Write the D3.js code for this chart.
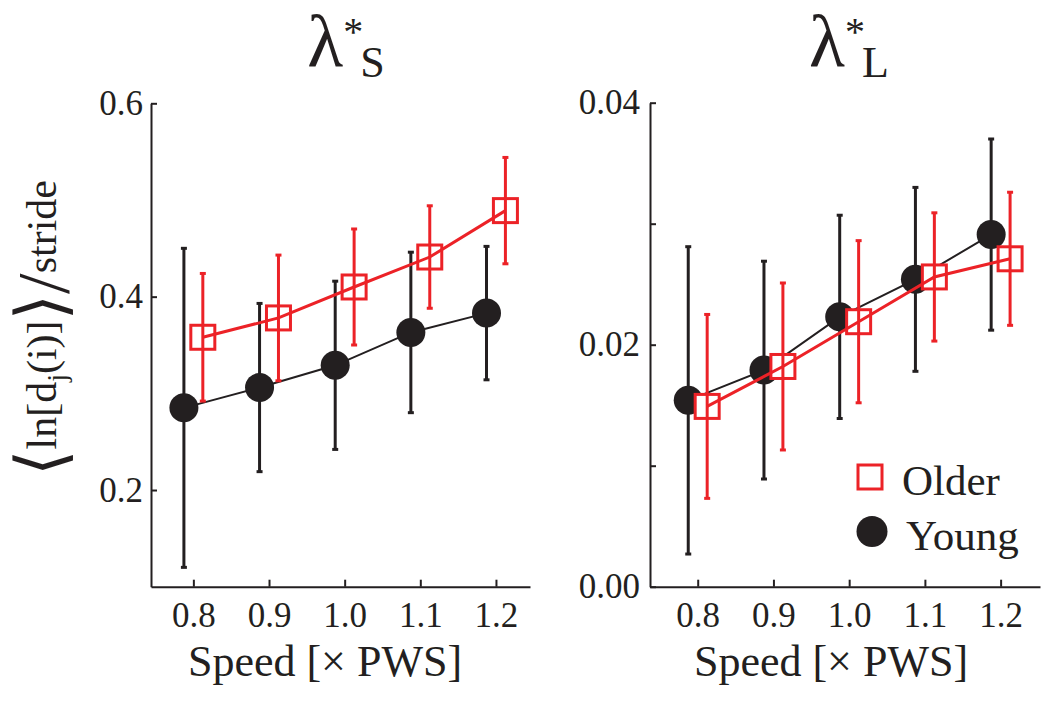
<!DOCTYPE html>
<html><head><meta charset="utf-8">
<script src="https://cdn.jsdelivr.net/npm/d3@7"></script>
<style>
body{margin:0;background:#fff}
svg text{font-family:"Liberation Serif","Times New Roman",serif;fill:#231f20}
</style>
</head><body><svg id="c" width="1050" height="704"></svg>
<script>
// ---- data ----
const speeds = [0.8, 0.9, 1.0, 1.1, 1.2];
const seriesNames = ["Older", "Young"];
const shortYoungMean = [0.285, 0.306, 0.329, 0.363, 0.383];
const shortYoungSD   = [0.165, 0.087, 0.087, 0.083, 0.069];
const shortOlderMean = [0.358, 0.378, 0.410, 0.441, 0.489];
const shortOlderSD   = [0.066, 0.065, 0.060, 0.053, 0.055];
const longYoungMean  = [0.0154, 0.0179, 0.0223, 0.0254, 0.0291];
const longYoungSD    = [0.0127, 0.0090, 0.0084, 0.0076, 0.0079];
const longOlderMean  = [0.0149, 0.0182, 0.0219, 0.0256, 0.0271];
const longOlderSD    = [0.0076, 0.0069, 0.0067, 0.0053, 0.0055];
const xTickValues = [0.8, 0.9, 1.0, 1.1, 1.2];
const xTickLabels = ["0.8", "0.9", "1.0", "1.1", "1.2"];
const shortYTicks = [0.2, 0.4, 0.6];
const shortYLabels = ["0.2", "0.4", "0.6"];
const longYTicks = [0, 0.01, 0.02, 0.03, 0.04];
const longYLabels = ["0.00", "", "0.02", "", "0.04"];
const titleSubs = ["S", "L"];
const xLabel = "Speed [\u00d7 PWS]";

const BLACK = "#231f20", RED = "#ec2227";
const svg = d3.select("#c");

const panels = [
  {x: d3.scaleLinear().domain([0.744, 1.245]).range([151, 530]),
   y: d3.scaleLinear().domain([0.1, 0.6]).range([586.7, 103.3]),
   yTicks: shortYTicks, yLabels: shortYLabels,
   young: shortYoungMean, youngSD: shortYoungSD,
   older: shortOlderMean, olderSD: shortOlderSD,
   sub: titleSubs[0], titleX: 346, labelX: 325, pad: 8},
  {x: d3.scaleLinear().domain([0.737, 1.252]).range([650, 1040]),
   y: d3.scaleLinear().domain([0, 0.04]).range([586.7, 102.7]),
   yTicks: longYTicks, yLabels: longYLabels,
   young: longYoungMean, youngSD: longYoungSD,
   older: longOlderMean, olderSD: longOlderSD,
   sub: titleSubs[1], titleX: 849, labelX: 831, pad: 10}
];

const off = 0.0125;

panels.forEach((p, pi) => {
  const g = svg.append("g");
  const x = p.x, y = p.y;
  const y0 = y.range()[0], x0 = x.range()[0];

  // axes
  const xa = g.append("g").attr("transform", `translate(0,${y0})`)
    .call(d3.axisBottom(x).tickValues(xTickValues).tickFormat((d, i) => xTickLabels[i])
      .tickSizeInner(-7).tickSizeOuter(0).tickPadding(15));
  const ya = g.append("g").attr("transform", `translate(${x0},0)`)
    .call(d3.axisLeft(y).tickValues(p.yTicks).tickFormat((d, i) => p.yLabels[i])
      .tickSizeInner(-6).tickSizeOuter(0).tickPadding(p.pad));
  [xa, ya].forEach(a => {
    a.attr("font-size", null).attr("font-family", null);
    a.selectAll("path, line").attr("stroke", BLACK).attr("stroke-width", 2);
    a.selectAll("text").attr("font-size", 35).attr("fill", BLACK);
  });

  const series = [
    {mean: p.young, sd: p.youngSD, dx: -off, color: BLACK, lw: 2, name: seriesNames[1]},
    {mean: p.older, sd: p.olderSD, dx: off, color: RED, lw: 3, name: seriesNames[0]}
  ];
  const line = d3.line().x(d => x(d.s)).y(d => y(d.m));

  series.forEach((s, si) => {
    const pts = speeds.map((v, i) => ({s: v + s.dx, m: s.mean[i], e: s.sd[i]}));
    const sg = g.append("g");
    const drawLineBars = () => {
      sg.append("path").datum(pts).attr("d", line).attr("fill", "none")
        .attr("stroke", s.color).attr("stroke-width", s.lw);
      const eb = sg.selectAll(".eb").data(pts).enter().append("g");
      eb.append("line").attr("x1", d => x(d.s)).attr("x2", d => x(d.s))
        .attr("y1", d => y(d.m - d.e)).attr("y2", d => y(d.m + d.e))
        .attr("stroke", s.color).attr("stroke-width", 3);
      [-1, 1].forEach(sign => {
        eb.append("line").attr("x1", d => x(d.s) - 3).attr("x2", d => x(d.s) + 3)
          .attr("y1", d => y(d.m + sign * d.e)).attr("y2", d => y(d.m + sign * d.e))
          .attr("stroke", s.color).attr("stroke-width", 3);
      });
    };
    if (si === 0) {
      drawLineBars();
      sg.selectAll("circle").data(pts).enter().append("circle")
        .attr("cx", d => x(d.s)).attr("cy", d => y(d.m)).attr("r", 14.5).attr("fill", BLACK);
    } else {
      sg.selectAll("rect").data(pts).enter().append("rect")
        .attr("x", d => x(d.s) - 12).attr("y", d => y(d.m) - 12)
        .attr("width", 24).attr("height", 24)
        .attr("fill", "#fff").attr("stroke", RED).attr("stroke-width", 3);
      drawLineBars();
    }
  });

  // title
  const t = svg.append("text").attr("x", p.titleX).attr("y", 66).attr("text-anchor", "middle");
  t.append("tspan").attr("font-size", 74).text("\u03bb");
  t.append("tspan").attr("font-size", 40).attr("dy", -21).text("*");
  t.append("tspan").attr("font-size", 44).attr("dy", 32).attr("dx", -3).text(p.sub);

  // x label
  svg.append("text").attr("x", p.labelX).attr("y", 676).attr("text-anchor", "middle")
    .attr("font-size", 44).text(xLabel);

  // legend (right panel)
  if (pi === 1) {
    const lg = svg.append("g");
    lg.append("rect").attr("x", 858).attr("y", 465).attr("width", 24).attr("height", 24)
      .attr("fill", "#fff").attr("stroke", RED).attr("stroke-width", 3);
    lg.append("text").attr("x", 902).attr("y", 495).attr("font-size", 43).text(seriesNames[0]);
    lg.append("circle").attr("cx", 872).attr("cy", 531.5).attr("r", 15.5).attr("fill", BLACK);
    lg.append("text").attr("x", 906).attr("y", 550).attr("font-size", 43).text(seriesNames[1]);
  }
});

// y label
const yl = svg.append("text").attr("transform", "translate(56,328) rotate(-90)")
  .attr("text-anchor", "middle").attr("font-size", 42);
yl.append("tspan").attr("font-family", "DejaVu Sans").attr("font-size", 68).attr("dy", 8).text("\u27e8");
yl.append("tspan").attr("dy", -8).text("ln[d");
yl.append("tspan").attr("font-size", 28).attr("dy", 10).text("j");
yl.append("tspan").attr("dy", -10).text("(i)]");
yl.append("tspan").attr("font-family", "DejaVu Sans").attr("font-size", 68).attr("dy", 8).text("\u27e9");
yl.append("tspan").attr("font-size", 74).attr("dy", 5).text("/");
yl.append("tspan").attr("dy", -13).text("stride");
</script>
</body></html>
